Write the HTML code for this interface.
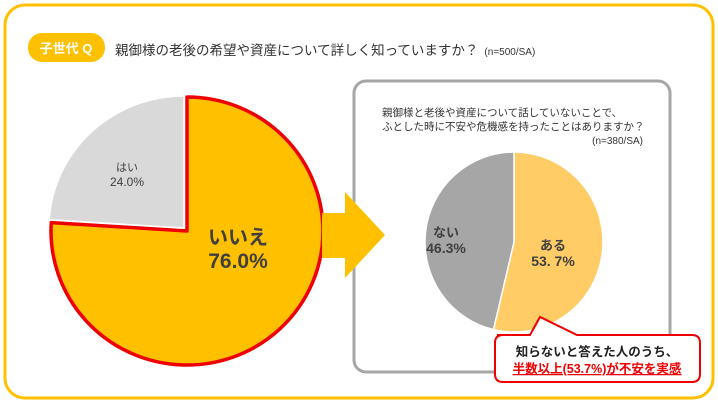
<!DOCTYPE html>
<html><head><meta charset="utf-8">
<style>
body{margin:0;width:718px;height:404px;background:#fff;overflow:hidden;font-family:"Liberation Sans","Noto Sans CJK JP",sans-serif;}
svg{display:block}
</style></head><body>
<svg width="718" height="404" viewBox="0 0 718 404">
<rect x="5" y="5" width="708" height="393" rx="20" fill="#fff" stroke="#FFC000" stroke-width="3"/>
<rect x="28" y="33" width="77" height="29" rx="14" fill="#FFC000"/>
<text x="66" y="53" text-anchor="middle" font-size="13" font-weight="bold" fill="#fff">子世代 Q</text>
<text x="115" y="55" font-size="13.5" fill="#333">親御様の老後の希望や資産について詳しく知っていますか？<tspan font-size="10" dx="6">(n=500/SA)</tspan></text>
<g id="bigpie"></g>
<rect x="354" y="81" width="316" height="291" rx="12" fill="#fff" stroke="#A6A6A6" stroke-width="3"/>
<polygon points="322,213 345,213 345,192 385,235 345,278 345,258 322,258" fill="#FFC000"/>
<text x="382" y="116" font-size="10.5" fill="#333">親御様と老後や資産について話していないことで、</text>
<text x="382" y="130" font-size="10.5" fill="#333">ふとした時に不安や危機感を持ったことはありますか？</text>
<text x="643" y="144" text-anchor="end" font-size="10" fill="#333">(n=380/SA)</text>
<g id="smallpie"></g>
<path d="M497,335 L530,335 L540,317 L577,335 L692,335 Q700,335 700,343 L700,374 Q700,382 692,382 L503,382 Q495,382 495,374 L495,343 Q495,335 503,335 Z" fill="#fff" stroke="#E00" stroke-width="2"/>
<text x="597" y="356" text-anchor="middle" font-size="12.5" font-weight="bold" fill="#222">知らないと答えた人のうち、</text>
<text x="597" y="373" text-anchor="middle" font-size="12.5" font-weight="bold" fill="#E00" text-decoration="underline">半数以上(53.7%)が不安を実感</text>
</svg>
<script>
const bigLabels=["いいえ","はい"];
const bigValues=[76.0,24.0];
const smallLabels=["ある","ない"];
const smallValues=[53.7,46.3];
const NS="http://www.w3.org/2000/svg";
function pt(cx,cy,rx,ry,frac){const a=frac*2*Math.PI;return [cx+rx*Math.sin(a),cy-ry*Math.cos(a)];}
function slice(g,cx,cy,rx,ry,f0,f1,fill,stroke,sw){
  const p0=pt(cx,cy,rx,ry,f0),p1=pt(cx,cy,rx,ry,f1);
  const large=(f1-f0)>0.5?1:0;
  const p=document.createElementNS(NS,"path");
  p.setAttribute("d",`M${cx},${cy} L${p0[0]},${p0[1]} A${rx},${ry} 0 ${large} 1 ${p1[0]},${p1[1]} Z`);
  p.setAttribute("fill",fill);
  if(stroke){p.setAttribute("stroke",stroke);p.setAttribute("stroke-width",sw);p.setAttribute("stroke-linejoin","round");}
  else{p.setAttribute("stroke","#fff");p.setAttribute("stroke-width","1.5");}
  g.appendChild(p);return p;
}
function txt(g,x,y,s,size,weight,fill){
  const t=document.createElementNS(NS,"text");
  t.setAttribute("x",x);t.setAttribute("y",y);t.setAttribute("text-anchor","middle");
  t.setAttribute("font-size",size);t.setAttribute("font-weight",weight);t.setAttribute("fill",fill);
  t.textContent=s;g.appendChild(t);return t;
}
const bg=document.getElementById("bigpie");
const bt=bigValues[0]+bigValues[1];
const f1=bigValues[0]/bt;
const s2=slice(bg,184,228,135,132,f1,1,"#D9D9D9");


const s1=slice(bg,187,231,136,134,0,f1,"#FFC000","#E00",3.5);


const l1=txt(bg,238,244,bigLabels[0],20,"bold","#404040");


const v1=txt(bg,238,268,bigValues[0].toFixed(1)+"%",21,"bold","#404040");


const l2=txt(bg,127,171,bigLabels[1],11,"normal","#404040");


const v2=txt(bg,127,186,bigValues[1].toFixed(1)+"%",12,"normal","#404040");


const sg=document.getElementById("smallpie");
const st=smallValues[0]+smallValues[1];
const g1=smallValues[0]/st;
const a1=slice(sg,514,242,89,90,0,g1,"#FFCC66");


const a2=slice(sg,514,242,89,90,g1,1,"#A6A6A6");


const la=txt(sg,553,250,smallLabels[0],13,"bold","#404040");


const va=txt(sg,553,266,smallValues[0].toFixed(1).replace("."," . ").replace(" . ",". ")+"%",14,"bold","#404040");


const ln=txt(sg,446,237,smallLabels[1],13,"bold","#404040");


const vn=txt(sg,446,253,smallValues[1].toFixed(1)+"%",14,"bold","#404040");


</script>
</body></html>
